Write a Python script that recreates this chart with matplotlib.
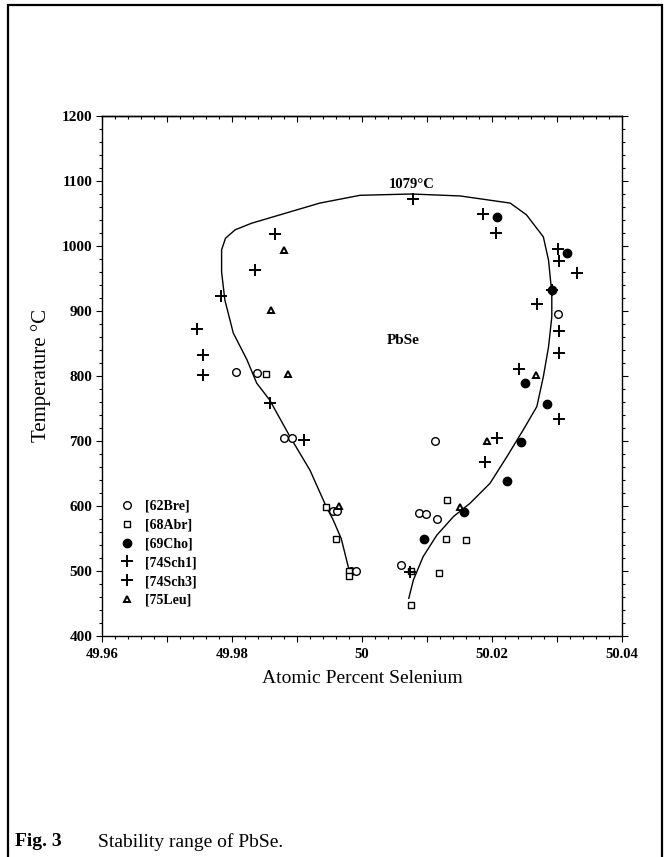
import matplotlib

matplotlib.use("Agg")
import matplotlib.pyplot as plt
from matplotlib.lines import Line2D
from matplotlib.patches import Rectangle
from matplotlib.ticker import MultipleLocator, FuncFormatter, NullFormatter

plt.rcParams["font.family"] = ["Liberation Serif", "DejaVu Serif"]

# data: (atomic % Se, temperature degC)
bre_x = [49.9806, 49.9838, 49.9880, 49.9892, 50.0302, 50.0112, 50.0088, 50.0098,
         50.0116, 50.0060, 49.9955, 49.9962, 49.9983, 49.9990]
bre_y = [806.6, 805, 705, 704, 895, 700.5, 589, 588, 579.5, 510, 592, 592, 500, 500]

abr_x = [49.9853, 49.9945, 49.9960, 49.9980, 49.9980, 50.0130, 50.0129, 50.0160,
         50.0076, 50.0119, 50.0076]
abr_y = [803, 599, 550, 500, 492, 609, 549, 548, 500.5, 497.5, 448]

cho_x = [50.0208, 50.0315, 50.0293, 50.0251, 50.0285, 50.0244, 50.0223, 50.0157, 50.0095]
cho_y = [1044, 990, 933, 790, 757, 698, 639, 591, 550]

sch1_x = [50.0079, 50.01865, 50.0206, 50.0302, 50.0303, 50.0330, 50.0293, 50.0269,
          50.0303, 50.0303, 50.0242, 50.0303, 50.0208, 50.0189, 50.0074]
sch1_y = [1073, 1049, 1019.5, 995, 977, 959, 933, 911, 870, 835, 811, 734, 704, 668, 498]

sch3_x = [49.9866, 49.9835, 49.9783, 49.9746, 49.9756, 49.9756, 49.9858, 49.9911]
sch3_y = [1018, 963, 923.5, 873, 832, 801.5, 758, 701.5]

leu_x = [49.9880, 49.9860, 49.9886, 50.0267, 50.0193, 50.0150, 49.9965]
leu_y = [994, 901.5, 802.6, 801.5, 700.5, 598, 600]

# stability boundary of PbSe
curve_x = [49.9982, 49.9978, 49.9968, 49.9955, 49.9945, 49.9920, 49.9889, 49.9858,
           49.9838, 49.9823, 49.9802, 49.9789, 49.9784, 49.9784, 49.9790, 49.9805,
           49.9830, 49.9874, 49.9935, 49.9997, 50.0076, 50.0151, 50.0228, 50.0253,
           50.0279, 50.0287, 50.0292, 50.0292, 50.0287, 50.0279, 50.0269, 50.0248,
           50.0223, 50.0197, 50.0166, 50.0141, 50.0115, 50.0094, 50.0079, 50.0072]
curve_y = [495, 510, 550, 580, 599, 655, 707, 763,
           789, 825, 866, 917, 960, 994, 1012, 1025,
           1035, 1048, 1066, 1078, 1080, 1077, 1066, 1048,
           1014, 978, 927, 891, 845, 799, 753, 717,
           676, 635, 604, 584, 555, 522, 486, 458]

x_labels = {49.96: "49.96", 49.98: "49.98", 50.0: "50", 50.02: "50.02", 50.04: "50.04"}

fig = plt.figure(figsize=(6.7, 8.57), dpi=100)
ax = fig.add_axes([102 / 670, 221 / 857, 520 / 670, 520 / 857])

ax.plot(curve_x, curve_y, "-", color="black", lw=1.0)

mk = dict(linestyle="none", color="black")
ax.plot(bre_x, bre_y, marker="o", ms=5.5, mfc="white", mew=1.0, **mk)
ax.plot(abr_x, abr_y, marker="s", ms=5, mfc="white", mew=1.0, **mk)
ax.plot(cho_x, cho_y, marker="o", ms=6, mfc="black", mew=1.0, **mk)
ax.plot(sch1_x, sch1_y, marker="+", ms=8, mew=1.4, **mk)
ax.plot(sch3_x, sch3_y, marker="+", ms=8, mew=1.4, **mk)
ax.plot(leu_x, leu_y, marker="^", ms=5, mfc="white", mew=1.4, **mk)

ax.set_xlim(49.96, 50.04)
ax.set_ylim(400, 1200)
ax.xaxis.set_major_locator(MultipleLocator(0.01))
ax.xaxis.set_minor_locator(MultipleLocator(0.002))
ax.xaxis.set_major_formatter(FuncFormatter(
    lambda v, p: x_labels.get(round(v, 2), "")))
ax.yaxis.set_major_locator(MultipleLocator(100))
ax.yaxis.set_minor_locator(MultipleLocator(20))

# bottom, left and right ticks point out; top ticks point in
ax.tick_params(which="both", direction="out", top=False, right=True, width=0.8)
ax.tick_params(which="major", length=4)
ax.tick_params(which="minor", length=2)
for t in ax.get_xticklabels() + ax.get_yticklabels():
    t.set_fontweight("bold")
ax.tick_params(axis="x", labelsize=10.5, pad=5)
ax.tick_params(axis="y", labelsize=11, pad=3)
for s in ax.spines.values():
    s.set_linewidth(1.0)

top = ax.secondary_xaxis("top")
top.xaxis.set_major_locator(MultipleLocator(0.01))
top.xaxis.set_minor_locator(MultipleLocator(0.002))
top.xaxis.set_major_formatter(NullFormatter())
top.tick_params(which="both", direction="in", width=0.8)
top.tick_params(which="major", length=4)
top.tick_params(which="minor", length=2)
top.spines["top"].set_linewidth(1.0)

ax.set_xlabel("Atomic Percent Selenium", fontsize=14, labelpad=6)
ax.set_ylabel("Temperature °C", fontsize=15, labelpad=8)

ax.text(50.0077, 1085, "1079°C", ha="center", va="bottom", fontsize=10.5,
        fontweight="bold")
ax.text(50.0063, 855, "PbSe", ha="center", va="center", fontsize=11,
        fontweight="bold")

handles = [
    Line2D([], [], marker="o", ms=5.5, mfc="white", mew=1.0, **mk),
    Line2D([], [], marker="s", ms=5, mfc="white", mew=1.0, **mk),
    Line2D([], [], marker="o", ms=6, mfc="black", mew=1.0, **mk),
    Line2D([], [], marker="+", ms=8, mew=1.4, **mk),
    Line2D([], [], marker="+", ms=8, mew=1.4, **mk),
    Line2D([], [], marker="^", ms=5, mfc="white", mew=1.4, **mk),
]
labels = ["[62Bre]", "[68Abr]", "[69Cho]", "[74Sch1]", "[74Sch3]", "[75Leu]"]
ax.legend(handles, labels, loc="upper left", bbox_to_anchor=(0.035, 0.262),
          frameon=False, handlelength=1.0, handletextpad=0.8,
          labelspacing=0.42, borderaxespad=0, borderpad=0,
          prop={"size": 10, "weight": "bold"})

# outer frame of the figure page
fig.patches.append(Rectangle((8 / 670, -0.01), 654 / 670, 1 - 5 / 857 + 0.01,
                             transform=fig.transFigure, fill=False,
                             edgecolor="black", lw=1.6))

fig.text(15 / 670, 1 - 842 / 857, "Fig. 3", fontsize=14, fontweight="bold",
         va="center", ha="left")
fig.text(98 / 670, 1 - 842 / 857, "Stability range of PbSe.", fontsize=14,
         va="center", ha="left")

fig.savefig("out.png", dpi=100)
